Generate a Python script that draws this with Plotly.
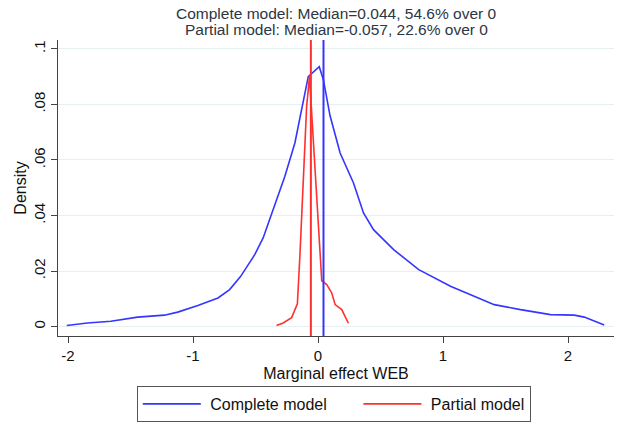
import plotly.graph_objects as go

# Complete model density
complete_x = [-2.01, -1.845, -1.657, -1.443, -1.229, -1.122, -0.961, -0.80, -0.707, -0.62,
              -0.506, -0.439, -0.265, -0.185, -0.078, 0.010, 0.043, 0.096, 0.177, 0.284,
              0.364, 0.444, 0.605, 0.806, 1.06, 1.22, 1.41, 1.62, 1.86, 2.05, 2.13, 2.29]
complete_y = [0.0004, 0.0013, 0.0019, 0.0034, 0.0041, 0.0052, 0.0076, 0.0103, 0.0133, 0.0180,
              0.0259, 0.0319, 0.0541, 0.0661, 0.0900, 0.0936, 0.0889, 0.0760, 0.0625, 0.0517,
              0.0409, 0.0349, 0.0277, 0.0205, 0.0145, 0.0115, 0.0079, 0.0061, 0.0043, 0.0041, 0.0034, 0.0006]

# Partial model density
partial_x = [-0.332, -0.279, -0.211, -0.165, -0.145, -0.118, -0.091, -0.068, -0.038, 0.0,
             0.018, 0.030, 0.070, 0.110, 0.137, 0.190, 0.243]
partial_y = [0.0004, 0.0013, 0.0032, 0.0082, 0.0253, 0.0553, 0.0792, 0.0900, 0.0670, 0.0400,
             0.0280, 0.0165, 0.0151, 0.0121, 0.0079, 0.0061, 0.0012]

medians = {"Complete model": 0.044, "Partial model": -0.057}
share_over_0 = {"Complete model": 54.6, "Partial model": 22.6}

x_ticks = [-2, -1, 0, 1, 2]
x_tick_labels = ["-2", "-1", "0", "1", "2"]
y_ticks = [0, 0.02, 0.04, 0.06, 0.08, 0.1]
y_tick_labels = ["0", ".02", ".04", ".06", ".08", ".1"]

BLUE = "#3535ff"
RED = "#ff3030"
FONT = "Liberation Sans, Arial, Helvetica, sans-serif"
NB = "\u00a0"

fig = go.Figure()
fig.add_trace(go.Scatter(x=complete_x, y=complete_y, mode="lines",
                         name=NB + "Complete model" + NB * 6,
                         line=dict(color=BLUE, width=1.6)))
fig.add_trace(go.Scatter(x=partial_x, y=partial_y, mode="lines",
                         name=NB + "Partial model",
                         line=dict(color=RED, width=1.6)))

for name, color in [("Partial model", RED), ("Complete model", BLUE)]:
    fig.add_shape(type="line", xref="x", yref="paper", x0=medians[name], x1=medians[name],
                  y0=0, y1=1, line=dict(color=color, width=2), layer="above")

title_lines = [f"{n}: Median={medians[n]:.3f}, {share_over_0[n]:.1f}% over 0"
               for n in ["Complete model", "Partial model"]]
for txt, ypix in zip(title_lines, [13, 29]):
    fig.add_annotation(text=txt, xref="paper", yref="paper", x=0.5,
                       y=1 + (40 - ypix) / 296.5,
                       xanchor="center", yanchor="middle", showarrow=False,
                       font=dict(size=15.5, color="#2c3644", family=FONT))

fig.update_layout(
    width=617, height=422,
    margin=dict(l=58, r=3, t=40, b=86),
    paper_bgcolor="white", plot_bgcolor="white",
    font=dict(family=FONT, size=15, color="#111111"),
    showlegend=True,
    legend=dict(orientation="h", xref="container", yref="container",
                x=0.541, xanchor="center", y=0.0853, yanchor="top",
                bordercolor="#555555", borderwidth=1, bgcolor="white",
                font=dict(size=16, color="#111111"), itemwidth=58),
)
fig.update_xaxes(range=[-2.08, 2.368], tickvals=x_ticks, ticktext=x_tick_labels,
                 ticks="outside", ticklen=6, automargin=False,
                 tickcolor="#444444", showline=True, linecolor="#444444", linewidth=1,
                 showgrid=False, zeroline=False, tickfont=dict(size=15),
                 title=dict(text="Marginal effect WEB", font=dict(size=16), standoff=4))
fig.update_yaxes(range=[-0.0034, 0.1032], tickvals=y_ticks, ticktext=y_tick_labels,
                 tickangle=-90, ticks="outside", ticklen=6, automargin=False,
                 tickcolor="#444444",
                 showline=True, linecolor="#444444", linewidth=1,
                 showgrid=True, gridcolor="#e8f0f2", gridwidth=1, zeroline=False,
                 tickfont=dict(size=15),
                 title=dict(text="Density", font=dict(size=16), standoff=0))

fig.write_html("out.html", config={"displayModeBar": False},
               post_script="document.body.style.margin='0px';")
